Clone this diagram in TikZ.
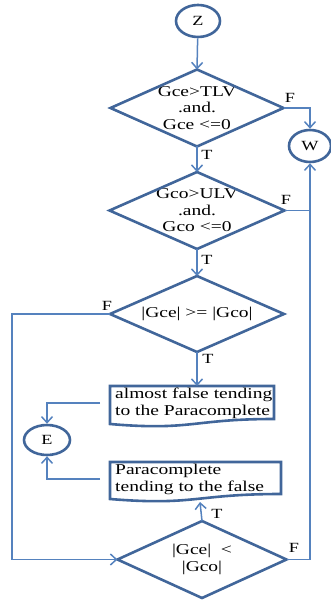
\documentclass[tikz,border=0pt]{standalone}
\usepackage{fontspec}
\setmainfont{Liberation Serif}[FakeStretch=1.3]
\usetikzlibrary{shapes.geometric,arrows.meta,calc}
\definecolor{edgeblue}{HTML}{41669A}
\definecolor{linkblue}{HTML}{5582BE}
\tikzset{
  decisiontext/.style={inner sep=0pt, align=center, font=\fontsize{15}{16.5}\selectfont},
  decisionedge/.style={draw=edgeblue, line width=2.6pt, line join=miter},
  terminal/.style={ellipse, draw=edgeblue, line width=2.6pt, inner sep=0pt,
    font=\fontsize{14}{16}\selectfont},
  docbox/.style={draw=edgeblue, line width=2.6pt},
  doctext/.style={inner sep=0pt, align=left, font=\fontsize{15}{17}\selectfont},
  link/.style={draw=linkblue, line width=1.5pt},
  arrow/.style={link, -{Straight Barb[length=6pt,width=11pt,line width=1.5pt]}},
  tag/.style={font=\fontsize{14}{16}\selectfont, inner sep=0pt}
}
% decision diamond: name, centre x, centre y, half width, half height, text
\newcommand{\flowdiamond}[6]{%
  \node[decisiontext] (#1) at (#2,#3) {#6};
  \coordinate (#1n) at ($(#2,#3)+(0,-#5)$);
  \coordinate (#1s) at ($(#2,#3)+(0,#5)$);
  \coordinate (#1e) at ($(#2,#3)+(#4,0)$);
  \coordinate (#1w) at ($(#2,#3)+(-#4,0)$);
  \draw[decisionedge] (#1n) -- (#1e) -- (#1s) -- (#1w) -- cycle;
}
\begin{document}
\begin{tikzpicture}[x=1pt,y=-1pt]
\useasboundingbox (0,0) rectangle (331,601);

% terminals
\node[terminal, minimum width=44pt, minimum height=32pt] (z) at (198,21) {Z};
\node[terminal, minimum width=42pt, minimum height=32pt] (w) at (310,146) {W};
\node[terminal, minimum width=46pt, minimum height=30pt] (e) at (47,440) {E};

% decisions
\flowdiamond{d1}{197}{108}{86.5}{38.5}{Gce>TLV\\.and.\\Gce <=0}
\flowdiamond{d2}{197}{210.5}{87.5}{38.5}{Gco>ULV\\.and.\\Gco <=0}
\flowdiamond{d3}{197}{314}{87}{38}{|Gce| >= |Gco|}
\flowdiamond{d4}{202}{559.5}{84.5}{38.5}{|Gce|\ \ <\\|Gco|}

% document boxes (wavy bottom edge)
\coordinate (b1tl) at (110,386); \coordinate (b1tr) at (274,386);
\coordinate (b1br) at (274,419); \coordinate (b1bl) at (110,424);
\draw[docbox] (b1bl) -- (b1tl) -- (b1tr) -- (b1br)
  .. controls (192,419) and (192,431) .. (b1bl) -- cycle;
\node[doctext, anchor=north west] (b1) at (115,388)
  {almost false tending\\to the Paracomplete};

\coordinate (b2tl) at (110,462); \coordinate (b2tr) at (281,462);
\coordinate (b2br) at (281,494); \coordinate (b2bl) at (110,499);
\draw[docbox] (b2bl) -- (b2tl) -- (b2tr) -- (b2br)
  .. controls (195,494) and (195,506) .. (b2bl) -- cycle;
\node[doctext, anchor=north west] (b2) at (115,464)
  {Paracomplete\\tending to the false};
\coordinate (b2in) at (200,502);

% connectors
\draw[arrow] (z) -- (d1n);
\draw[arrow] (d1e) -| (w.north);
\draw[arrow] (d1s) -- (d2n);
\draw[arrow] (d2s) -- (d3n);
\draw[link] (d2e) -- (d2e -| w);
\draw[arrow] (d3s) -- (d3s |- b1tl);
\coordinate (j1) at (12,314);
\draw[arrow] (d3w) -- (j1) |- (d4w);
\coordinate (s1) at (100,403);
\coordinate (s2) at (100,479);
\draw[arrow] (s1) -| (e.north);
\draw[arrow] (s2) -| (e.south);
\draw[arrow] (d4n) -- (b2in);
\draw[arrow] (d4e) -| (w.south);

% branch labels
\node[tag] (f1) at (290,98) {F};
\node[tag] (t1) at (207,155) {T};
\node[tag] (f2) at (286,200) {F};
\node[tag] (t2) at (207,260) {T};
\node[tag] (f3) at (107,306) {F};
\node[tag] (t3) at (208,359) {T};
\node[tag] (t4) at (217,514) {T};
\node[tag] (f4) at (294,548) {F};
\end{tikzpicture}
\end{document}
